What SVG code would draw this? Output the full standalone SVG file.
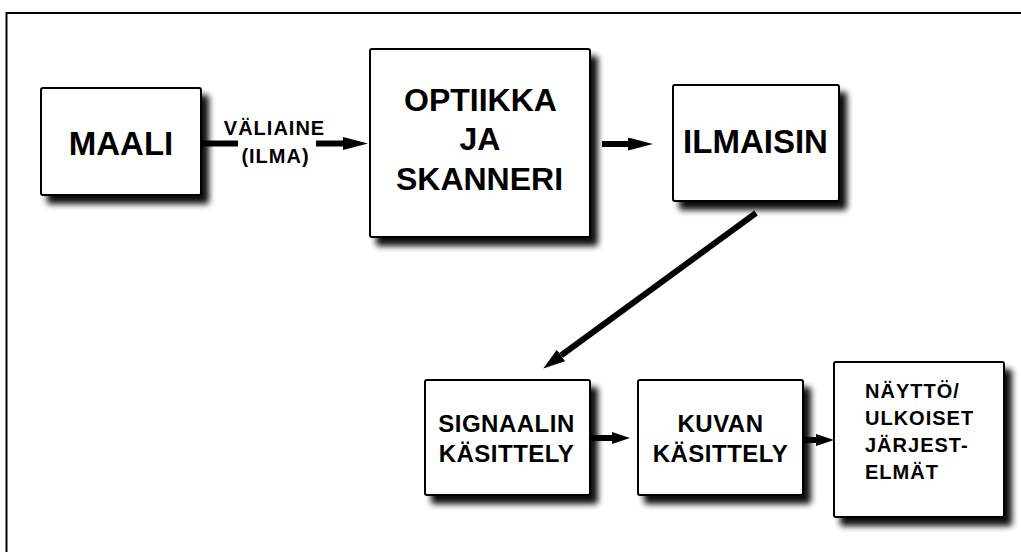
<svg xmlns="http://www.w3.org/2000/svg" width="1021" height="552" viewBox="0 0 1021 552">
  <defs>
    <filter id="shadow" x="-10%" y="-10%" width="130%" height="130%">
      <feGaussianBlur in="SourceAlpha" stdDeviation="3" result="b"/>
      <feOffset in="b" dx="7" dy="8" result="o"/>
      <feComponentTransfer in="o" result="s">
        <feFuncA type="linear" slope="0.95"/>
      </feComponentTransfer>
      <feMerge>
        <feMergeNode in="s"/>
        <feMergeNode in="SourceGraphic"/>
      </feMerge>
    </filter>
    <marker id="bigArrow" markerUnits="userSpaceOnUse" markerWidth="26" markerHeight="14" refX="0" refY="6.5" orient="auto">
      <path d="M0,0 L25,6.5 L0,13 Z" fill="#000"/>
    </marker>
    <marker id="smallArrow" markerUnits="userSpaceOnUse" markerWidth="19" markerHeight="13" refX="0" refY="6" orient="auto">
      <path d="M0,0 L18,6 L0,12 Z" fill="#000"/>
    </marker>
    <marker id="diagArrow" markerUnits="userSpaceOnUse" markerWidth="23" markerHeight="15" refX="0" refY="7" orient="auto">
      <path d="M0,0 L22,7 L0,14 Z" fill="#000"/>
    </marker>
  </defs>
  <style>
    .box { fill: #fff; stroke: #000; stroke-width: 2; filter: url(#shadow); }
    .conn { stroke: #000; stroke-width: 6; fill: none; }
    text { font-family: "Liberation Sans", Arial, sans-serif; font-weight: bold; fill: #000; }
    .big { font-size: 32px; text-anchor: middle; }
    .mid { font-size: 24px; text-anchor: middle; letter-spacing: 0.5px; }
    .small { font-size: 20px; letter-spacing: 1px; }
    .ctr { text-anchor: middle; }
  </style>

  <rect x="0" y="0" width="1021" height="552" fill="#fff"/>
  <rect id="frame" x="6.5" y="13" width="1040" height="560" fill="none" stroke="#000" stroke-width="2"/>

  <g id="connectors">
    <line class="conn" x1="201" y1="143.5" x2="238" y2="143.5"/>
    <line class="conn" x1="316" y1="143.5" x2="343" y2="143.5" marker-end="url(#bigArrow)"/>
    <text class="small ctr" x="274.5" y="135">VÄLIAINE</text>
    <text class="small ctr" x="275.5" y="163">(ILMA)</text>
    <line class="conn" x1="602" y1="144" x2="628" y2="144" marker-end="url(#bigArrow)"/>
    <line class="conn" x1="756" y1="213" x2="561" y2="355.5" marker-end="url(#diagArrow)"/>
    <line class="conn" x1="590" y1="438" x2="612" y2="438" marker-end="url(#smallArrow)"/>
    <line class="conn" x1="803" y1="440" x2="816" y2="440" marker-end="url(#smallArrow)"/>
  </g>

  <g id="maali">
    <rect class="box" x="41" y="88" width="160" height="107" rx="2"/>
    <text class="big" x="121" y="155" style="font-size:33px">MAALI</text>
  </g>

  <g id="optiikka">
    <rect class="box" x="370" y="49" width="220" height="188" rx="2"/>
    <text class="big" x="480.5" y="111">OPTIIKKA</text>
    <text class="big" x="480" y="150">JA</text>
    <text class="big" x="479.5" y="190">SKANNERI</text>
  </g>

  <g id="ilmaisin">
    <rect class="box" x="673" y="85" width="166" height="116" rx="2"/>
    <text class="big" x="755.5" y="153" style="font-size:33px">ILMAISIN</text>
  </g>

  <g id="signaalin">
    <rect class="box" x="425" y="380" width="165" height="115" rx="2"/>
    <text class="mid" x="506.5" y="432">SIGNAALIN</text>
    <text class="mid" x="506.5" y="462">KÄSITTELY</text>
  </g>

  <g id="kuvan">
    <rect class="box" x="638" y="380" width="165" height="115" rx="2"/>
    <text class="mid" x="720.5" y="432">KUVAN</text>
    <text class="mid" x="720.5" y="462">KÄSITTELY</text>
  </g>

  <g id="naytto">
    <rect class="box" x="834" y="362" width="170" height="155" rx="2"/>
    <text class="small" x="865" y="398">NÄYTTÖ/</text>
    <text class="small" x="865" y="425">ULKOISET</text>
    <text class="small" x="865" y="452">JÄRJEST-</text>
    <text class="small" x="865" y="479">ELMÄT</text>
  </g>
</svg>
